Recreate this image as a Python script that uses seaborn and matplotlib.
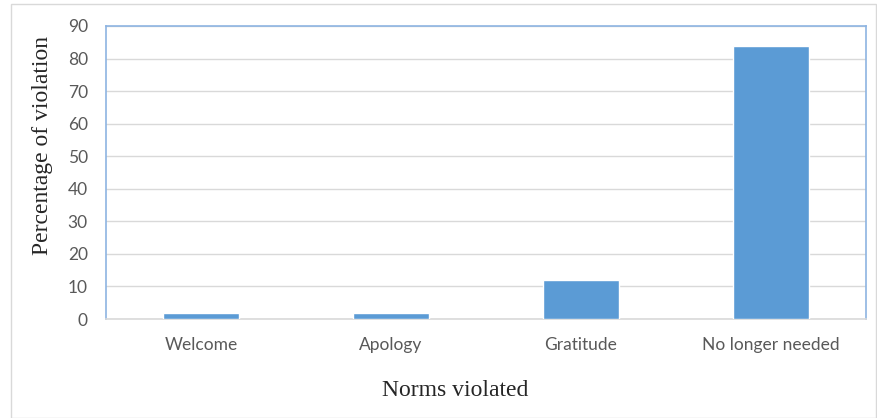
import pandas as pd
import numpy as np
import matplotlib.pyplot as plt
import seaborn as sns
from matplotlib.patches import Rectangle

sns.set_style('white')

# Data
norms = ['Welcome', 'Apology', 'Gratitude', 'No longer needed']
violation_pct = [2, 2, 12, 84]
y_ticks = [0, 10, 20, 30, 40, 50, 60, 70, 80, 90]

df = pd.DataFrame({'norm': norms, 'pct': violation_pct})

fig = plt.figure(figsize=(8.78, 4.18), dpi=100)
ax = fig.add_axes([0.1207, 0.2368, 0.8656, 0.701])

sns.barplot(data=df, x='norm', y='pct', color='#5B9BD5', width=0.4,
            saturation=1, ax=ax, zorder=3)

ax.set_ylim(0, 90)
ax.set_yticks(y_ticks)
ax.set_xlim(-0.5, 3.5)
ax.yaxis.grid(True, color='#D9D9D9', linewidth=1, zorder=0)
ax.set_axisbelow(True)

for side in ['left', 'top', 'right']:
    ax.spines[side].set_color('#8DB4E2')
    ax.spines[side].set_linewidth(1.2)
ax.spines['bottom'].set_color('#D9D9D9')
ax.spines['bottom'].set_linewidth(1.2)

ax.tick_params(axis='both', length=0, colors='#595959')
ax.tick_params(axis='y', pad=13)
ax.tick_params(axis='x', pad=13)
for lab in ax.get_xticklabels() + ax.get_yticklabels():
    lab.set_family('Lato')
    lab.set_fontsize(12.5)

ax.set_xlabel('')
ax.set_ylabel('')

fig.text(0.518, 0.065, 'Norms violated', family='Liberation Serif',
         fontsize=17, color='#262626', ha='center', va='center')
fig.text(0.048, 0.653, 'Percentage of violation', family='Liberation Serif',
         fontsize=17, color='#262626', ha='center', va='center', rotation=90)

# light outer frame around the chart
fig.patches.append(Rectangle((0.012, 0.0), 0.986, 0.99, transform=fig.transFigure,
                             fill=False, edgecolor='#D9D9D9', linewidth=1))

fig.savefig('out.png', dpi=100)
